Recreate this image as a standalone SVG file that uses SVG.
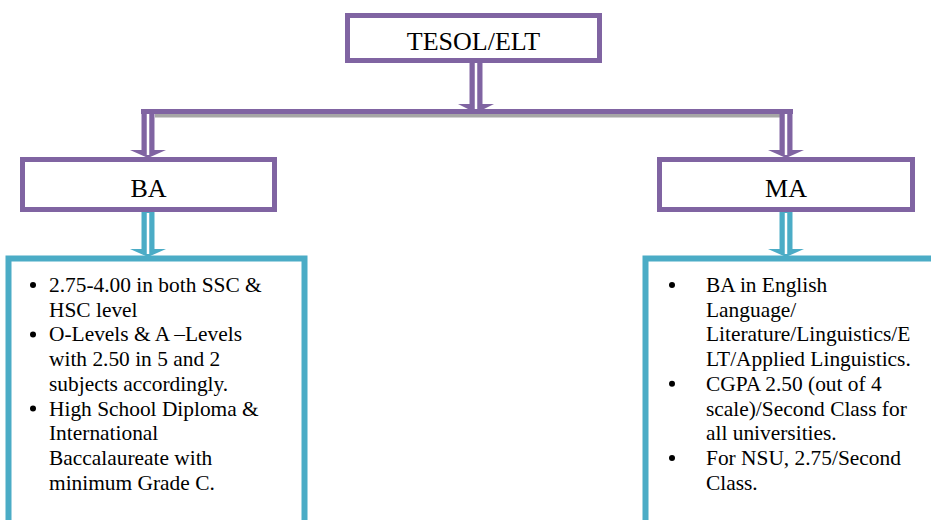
<svg xmlns="http://www.w3.org/2000/svg" width="931" height="520" viewBox="0 0 931 520">
  <style>
    .pbox { fill: #ffffff; stroke: #8064A2; stroke-width: 5; }
    .tbox { fill: #ffffff; stroke: #4BACC6; stroke-width: 6; }
    .title { font-size: 26px; fill: #000000; text-anchor: middle; }
    .body { font-size: 21.4px; fill: #000000; }
    .shaftP { stroke: #8064A2; stroke-width: 13; fill: none; }
    .shaftT { stroke: #4BACC6; stroke-width: 13; fill: none; }
    .gap { stroke: #ffffff; stroke-width: 2.5; fill: none; }
    .headP { fill: #8064A2; }
    .headT { fill: #4BACC6; }
    .dot { fill: #000000; }
  </style>

  <g id="connectors">
    <line class="shaftP" x1="476" y1="62" x2="476" y2="106"/>
    <polygon class="headP" points="458,104 494,104 476,113"/>
    <line class="gap" x1="476" y1="63" x2="476" y2="110"/>
    <rect x="155" y="114" width="625" height="3.5" fill="#A6A6A6"/>
    <rect x="141" y="109" width="652" height="5" fill="#8064A2"/>
    <line class="shaftP" x1="148" y1="109" x2="148" y2="152"/>
    <polygon class="headP" points="130,150 166,150 148,158"/>
    <line class="gap" x1="148" y1="114" x2="148" y2="155"/>
    <line class="shaftP" x1="786" y1="109" x2="786" y2="152"/>
    <polygon class="headP" points="768,150 804,150 786,158"/>
    <line class="gap" x1="786" y1="114" x2="786" y2="155"/>
    <line class="shaftT" x1="148" y1="211" x2="148" y2="250"/>
    <polygon class="headT" points="130,249 166,249 148,257"/>
    <line class="gap" x1="148" y1="213" x2="148" y2="254"/>
    <line class="shaftT" x1="786" y1="211" x2="786" y2="250"/>
    <polygon class="headT" points="768,249 804,249 786,257"/>
    <line class="gap" x1="786" y1="213" x2="786" y2="254"/>
  </g>

  <g id="node-tesol">
    <rect class="pbox" x="347.5" y="15.5" width="252" height="45"/>
    <text class="title" font-family="Liberation Serif, Times New Roman, serif" x="473.5" y="50">TESOL/ELT</text>
  </g>

  <g id="node-ba">
    <rect class="pbox" x="22.5" y="159.5" width="252" height="50"/>
    <text class="title" font-family="Liberation Serif, Times New Roman, serif" x="148.5" y="197">BA</text>
  </g>

  <g id="node-ma">
    <rect class="pbox" x="659.5" y="159.5" width="253" height="50"/>
    <text class="title" font-family="Liberation Serif, Times New Roman, serif" x="786" y="197">MA</text>
  </g>

  <g id="node-ba-req">
    <rect class="tbox" x="8.5" y="258.5" width="296" height="290"/>
    <circle class="dot" cx="33" cy="285" r="3"/>
    <circle class="dot" cx="33" cy="334.5" r="3"/>
    <circle class="dot" cx="33" cy="408.5" r="3"/>
    <text class="body" font-family="Liberation Serif, Times New Roman, serif">
      <tspan x="49" y="292">2.75-4.00 in both SSC &amp;</tspan>
      <tspan x="49" y="316.7">HSC level</tspan>
      <tspan x="49" y="341.4">O-Levels &amp; A –Levels</tspan>
      <tspan x="49" y="366.1">with 2.50 in 5 and 2</tspan>
      <tspan x="49" y="390.8">subjects accordingly.</tspan>
      <tspan x="49" y="415.5">High School Diploma &amp;</tspan>
      <tspan x="49" y="440.2">International</tspan>
      <tspan x="49" y="464.9">Baccalaureate with</tspan>
      <tspan x="49" y="489.6">minimum Grade C.</tspan>
    </text>
  </g>

  <g id="node-ma-req">
    <rect class="tbox" x="645.5" y="258.5" width="300" height="290"/>
    <circle class="dot" cx="672" cy="285" r="3"/>
    <circle class="dot" cx="672" cy="383.8" r="3"/>
    <circle class="dot" cx="672" cy="457.9" r="3"/>
    <text class="body" font-family="Liberation Serif, Times New Roman, serif">
      <tspan x="706" y="292">BA in English</tspan>
      <tspan x="706" y="316.7">Language/</tspan>
      <tspan x="706" y="341.4">Literature/Linguistics/E</tspan>
      <tspan x="706" y="366.1">LT/Applied Linguistics.</tspan>
      <tspan x="706" y="390.8">CGPA 2.50 (out of 4</tspan>
      <tspan x="706" y="415.5">scale)/Second Class for</tspan>
      <tspan x="706" y="440.2">all universities.</tspan>
      <tspan x="706" y="464.9">For NSU, 2.75/Second</tspan>
      <tspan x="706" y="489.6">Class.</tspan>
    </text>
  </g>
</svg>
